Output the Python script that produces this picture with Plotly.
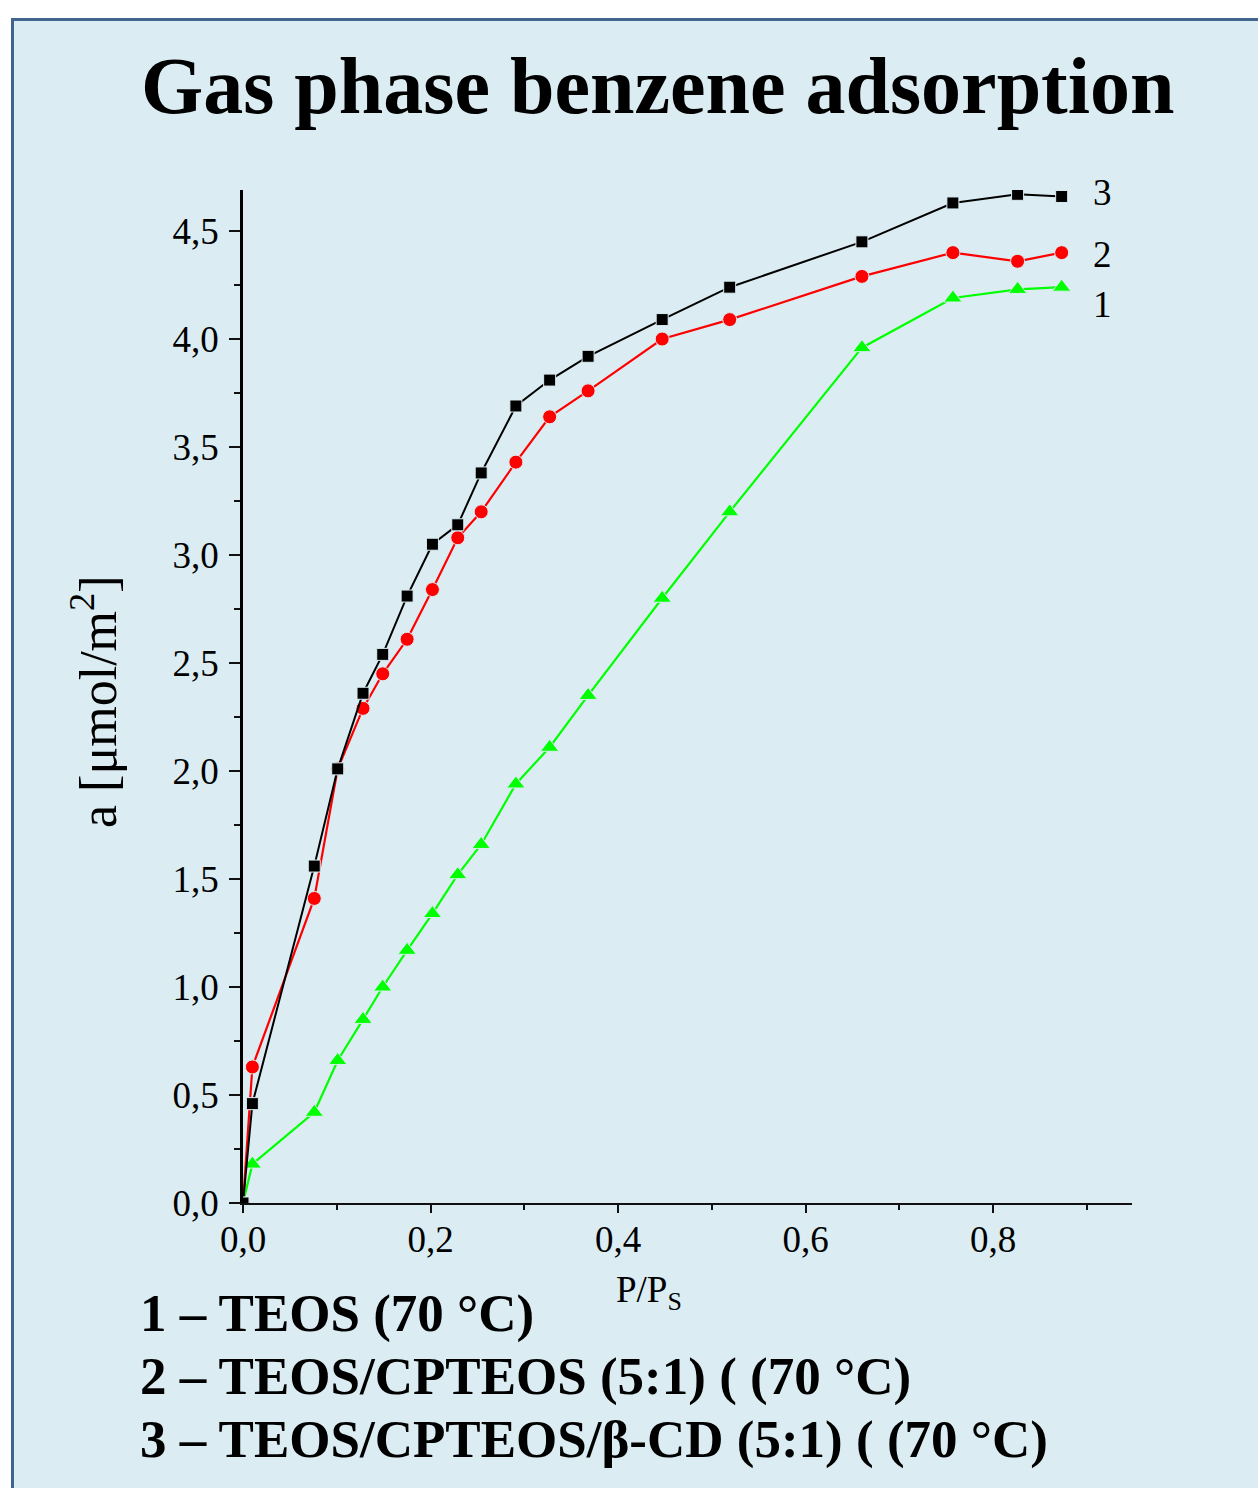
import plotly.graph_objects as go

# ---- data ----
p_ps = [0, 0.010, 0.076, 0.101, 0.128, 0.149, 0.175, 0.202, 0.229, 0.254,
        0.291, 0.327, 0.368, 0.447, 0.519, 0.660, 0.757, 0.826, 0.873]
teos = [0, 0.18, 0.42, 0.66, 0.85, 1.00, 1.17, 1.34, 1.52, 1.66,
        1.94, 2.11, 2.35, 2.80, 3.20, 3.96, 4.19, 4.23, 4.24]
teos_cpteos = [0, 0.63, 1.41, 2.01, 2.29, 2.45, 2.61, 2.84, 3.08, 3.20,
               3.43, 3.64, 3.76, 4.00, 4.09, 4.29, 4.40, 4.36, 4.40]
teos_cpteos_cd = [0, 0.46, 1.56, 2.01, 2.36, 2.54, 2.81, 3.05, 3.14, 3.38,
                  3.69, 3.81, 3.92, 4.09, 4.24, 4.45, 4.63, 4.67, 4.66]
curve_labels = ["1", "2", "3"]
legend_lines = ["1 – TEOS (70 °C)",
                "2 – TEOS/CPTEOS (5:1) ( (70 °C)",
                "3 – TEOS/CPTEOS/β-CD (5:1) ( (70 °C)"]
title_text = "Gas phase benzene adsorption"
y_title = "a [μmol/m<sup>2</sup>]"
x_title = "P/P<sub>S</sub>"

# ---- layout geometry ----
W, H = 1258, 1488
ML, MR, MT, MB = 243, 126, 190, 285
PW, PH = W - ML - MR, H - MT - MB
BG = "#dbedf3"
SERIF = "Liberation Serif, Times New Roman, serif"


def px_x(px):
    return (px - ML) / PW


def px_y(py):
    return (H - MB - py) / PH


fig = go.Figure()

mline = dict(color=BG, width=1)
fig.add_trace(go.Scatter(x=p_ps, y=teos, mode="lines+markers",
                         line=dict(color="#00ff00", width=2.2),
                         marker=dict(symbol="triangle-up", size=16, color="#00ff00", line=mline),
                         showlegend=False))
fig.add_trace(go.Scatter(x=p_ps, y=teos_cpteos, mode="lines+markers",
                         line=dict(color="#ff0000", width=2.2),
                         marker=dict(symbol="circle", size=14, color="#ff0000", line=mline),
                         showlegend=False))
fig.add_trace(go.Scatter(x=p_ps, y=teos_cpteos_cd, mode="lines+markers",
                         line=dict(color="#000000", width=2),
                         marker=dict(symbol="square", size=12, color="#000000", line=mline),
                         showlegend=False))

annotations = []
# curve numbers on the right
label_y = [4.16, 4.39, 4.68]
for lab, yv in zip(curve_labels, label_y):
    annotations.append(dict(x=0.917, y=yv, xref="x", yref="y", text=lab, showarrow=False,
                            font=dict(family=SERIF, size=37, color="black"),
                            xanchor="center", yanchor="middle"))
# title
annotations.append(dict(x=px_x(657), y=px_y(86), xref="paper", yref="paper", text="<b>" + title_text + "</b>",
                        showarrow=False, font=dict(family=SERIF, size=80, color="black"),
                        xanchor="center", yanchor="middle"))
# x axis title
annotations.append(dict(x=px_x(649), y=px_y(1292), xref="paper", yref="paper",
                        text=x_title, showarrow=False,
                        font=dict(family=SERIF, size=37, color="black"),
                        xanchor="center", yanchor="middle"))
# y axis title
annotations.append(dict(x=px_x(94), y=px_y(702), xref="paper", yref="paper",
                        text=y_title, showarrow=False, textangle=-90,
                        font=dict(family=SERIF, size=52, color="black"),
                        xanchor="center", yanchor="middle"))
# bottom legend text
for i, t in enumerate(legend_lines):
    annotations.append(dict(x=px_x(138), y=px_y(1313 + 63 * i), xref="paper", yref="paper",
                            text="<b>" + t + "</b>", showarrow=False,
                            font=dict(family=SERIF, size=53, color="black"),
                            xanchor="left", yanchor="middle"))

shapes = [dict(type="rect", xref="paper", yref="paper",
               x0=px_x(12.5), x1=px_x(1300), y0=px_y(1540), y1=px_y(19.5),
               fillcolor=BG, line=dict(color="#41658f", width=3), layer="below")]

fig.update_layout(
    width=W, height=H,
    margin=dict(l=ML, r=MR, t=MT, b=MB, autoexpand=False),
    paper_bgcolor="white", plot_bgcolor=BG,
    separators=", ",
    annotations=annotations, shapes=shapes,
    font=dict(family=SERIF, color="black"),
)
fig.update_xaxes(range=[0, 0.948], dtick=0.2, tick0=0, tickformat=".1f",
                 showline=True, linecolor="#111111", linewidth=1.5,
                 ticks="outside", ticklen=8, tickwidth=1.5, tickcolor="#111111",
                 minor=dict(dtick=0.1, ticks="outside", ticklen=5, tickwidth=1.5, tickcolor="#111111"),
                 showgrid=False, zeroline=False,
                 tickfont=dict(family=SERIF, size=37, color="black"), ticklabelstandoff=-5)
fig.update_yaxes(range=[0, 4.69], dtick=0.5, tick0=0, tickformat=".1f",
                 showline=True, linecolor="black", linewidth=2.5,
                 ticks="outside", ticklen=11, tickwidth=2, tickcolor="#111111",
                 minor=dict(dtick=0.25, ticks="outside", ticklen=6, tickwidth=2, tickcolor="#111111"),
                 showgrid=False, zeroline=False,
                 tickfont=dict(family=SERIF, size=37, color="black"), ticklabelstandoff=3)

fig.write_html("out.html", config={"displayModeBar": False},
               post_script="document.body.style.margin='0';document.body.style.padding='0';")
